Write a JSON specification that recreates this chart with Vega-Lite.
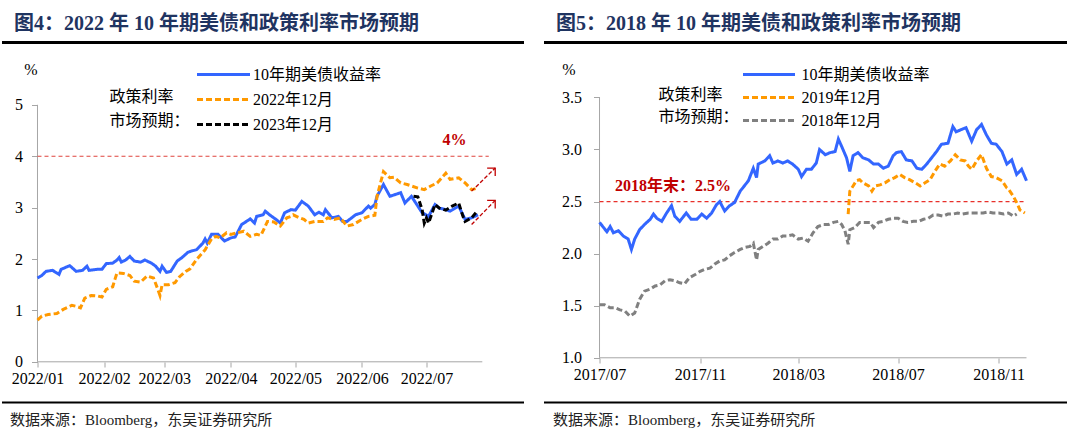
{
  "$schema": "https://vega.github.io/schema/vega-lite/v6.json",
  "background": "white",
  "padding": {"left": 1.5, "top": 13, "right": 5, "bottom": 5},
  "spacing": 20,
  "config": {
    "view": {"stroke": null},
    "font": "Liberation Serif",
    "axis": {"grid": false, "labelFont": "Liberation Serif", "labelFontSize": 16, "labelColor": "#000", "tickColor": "#a6a6a6", "domainColor": "#a6a6a6", "titleColor": "#000"}
  },
  "resolve": {"scale": {"x": "independent", "y": "independent", "color": "independent", "strokeDash": "independent"}},
  "datasets": {
    "us22": [
      {"d":"2022-01-01","s":"10年期美债收益率","v":1.63},{"d":"2022-01-03","s":"10年期美债收益率","v":1.68},{"d":"2022-01-05","s":"10年期美债收益率","v":1.76},{"d":"2022-01-08","s":"10年期美债收益率","v":1.78},{"d":"2022-01-11","s":"10年期美债收益率","v":1.70},{"d":"2022-01-12","s":"10年期美债收益率","v":1.80},{"d":"2022-01-16","s":"10年期美债收益率","v":1.87},{"d":"2022-01-19","s":"10年期美债收益率","v":1.76},{"d":"2022-01-22","s":"10年期美债收益率","v":1.78},{"d":"2022-01-24","s":"10年期美债收益率","v":1.86},{"d":"2022-01-25","s":"10年期美债收益率","v":1.78},{"d":"2022-01-29","s":"10年期美债收益率","v":1.80},{"d":"2022-01-31","s":"10年期美债收益率","v":1.80},{"d":"2022-02-02","s":"10年期美债收益率","v":1.91},{"d":"2022-02-05","s":"10年期美债收益率","v":1.92},{"d":"2022-02-07","s":"10年期美债收益率","v":1.98},{"d":"2022-02-08","s":"10年期美债收益率","v":2.03},{"d":"2022-02-09","s":"10年期美债收益率","v":1.94},{"d":"2022-02-11","s":"10年期美债收益率","v":1.98},{"d":"2022-02-13","s":"10年期美债收益率","v":2.05},{"d":"2022-02-15","s":"10年期美债收益率","v":1.96},{"d":"2022-02-18","s":"10年期美债收益率","v":1.94},{"d":"2022-02-20","s":"10年期美债收益率","v":1.98},{"d":"2022-02-23","s":"10年期美债收益率","v":1.92},{"d":"2022-02-25","s":"10年期美债收益率","v":1.86},{"d":"2022-02-27","s":"10年期美债收益率","v":1.76},{"d":"2022-02-28","s":"10年期美债收益率","v":1.86},{"d":"2022-03-02","s":"10年期美债收益率","v":1.74},{"d":"2022-03-04","s":"10年期美债收益率","v":1.76},{"d":"2022-03-07","s":"10年期美债收益率","v":1.96},{"d":"2022-03-09","s":"10年期美债收益率","v":2.02},{"d":"2022-03-12","s":"10年期美债收益率","v":2.13},{"d":"2022-03-14","s":"10年期美债收益率","v":2.16},{"d":"2022-03-16","s":"10年期美债收益率","v":2.18},{"d":"2022-03-19","s":"10年期美债收益率","v":2.31},{"d":"2022-03-20","s":"10年期美债收益率","v":2.39},{"d":"2022-03-21","s":"10年期美债收益率","v":2.31},{"d":"2022-03-23","s":"10年期美债收益率","v":2.48},{"d":"2022-03-26","s":"10年期美债收益率","v":2.48},{"d":"2022-03-29","s":"10年期美债收益率","v":2.35},{"d":"2022-04-01","s":"10年期美债收益率","v":2.41},{"d":"2022-04-03","s":"10年期美债收益率","v":2.43},{"d":"2022-04-06","s":"10年期美债收益率","v":2.67},{"d":"2022-04-10","s":"10年期美债收益率","v":2.78},{"d":"2022-04-12","s":"10年期美债收益率","v":2.70},{"d":"2022-04-13","s":"10年期美债收益率","v":2.83},{"d":"2022-04-16","s":"10年期美债收益率","v":2.86},{"d":"2022-04-17","s":"10年期美债收益率","v":2.93},{"d":"2022-04-19","s":"10年期美债收益率","v":2.86},{"d":"2022-04-22","s":"10年期美债收益率","v":2.77},{"d":"2022-04-24","s":"10年期美债收益率","v":2.70},{"d":"2022-04-26","s":"10年期美债收益率","v":2.90},{"d":"2022-04-29","s":"10年期美债收益率","v":2.96},{"d":"2022-05-01","s":"10年期美债收益率","v":2.95},{"d":"2022-05-04","s":"10年期美债收益率","v":3.12},{"d":"2022-05-07","s":"10年期美债收益率","v":3.03},{"d":"2022-05-10","s":"10年期美债收益率","v":2.86},{"d":"2022-05-12","s":"10年期美债收益率","v":2.91},{"d":"2022-05-14","s":"10年期美债收益率","v":2.86},{"d":"2022-05-15","s":"10年期美债收益率","v":2.96},{"d":"2022-05-18","s":"10年期美债收益率","v":2.80},{"d":"2022-05-20","s":"10年期美债收益率","v":2.82},{"d":"2022-05-21","s":"10年期美债收益率","v":2.83},{"d":"2022-05-23","s":"10年期美债收益率","v":2.73},{"d":"2022-05-25","s":"10年期美债收益率","v":2.73},{"d":"2022-05-29","s":"10年期美债收益率","v":2.86},{"d":"2022-06-01","s":"10年期美债收益率","v":2.90},{"d":"2022-06-04","s":"10年期美债收益率","v":3.03},{"d":"2022-06-05","s":"10年期美债收益率","v":2.99},{"d":"2022-06-07","s":"10年期美债收益率","v":3.06},{"d":"2022-06-08","s":"10年期美债收益率","v":3.22},{"d":"2022-06-11","s":"10年期美债收益率","v":3.45},{"d":"2022-06-14","s":"10年期美债收益率","v":3.22},{"d":"2022-06-19","s":"10年期美债收益率","v":3.29},{"d":"2022-06-21","s":"10年期美债收益率","v":3.09},{"d":"2022-06-24","s":"10年期美债收益率","v":3.22},{"d":"2022-06-29","s":"10年期美债收益率","v":2.90},{"d":"2022-07-02","s":"10年期美债收益率","v":2.83},{"d":"2022-07-05","s":"10年期美债收益率","v":3.06},{"d":"2022-07-07","s":"10年期美债收益率","v":2.99},{"d":"2022-07-10","s":"10年期美债收益率","v":2.96},{"d":"2022-07-12","s":"10年期美债收益率","v":2.93},{"d":"2022-07-16","s":"10年期美债收益率","v":3.03},{"d":"2022-07-19","s":"10年期美债收益率","v":2.77},{"d":"2022-07-22","s":"10年期美债收益率","v":2.80},{"d":"2022-07-25","s":"10年期美债收益率","v":2.86},
      {"d":"2022-01-01","s":"2022年12月","v":0.81},{"d":"2022-01-03","s":"2022年12月","v":0.89},{"d":"2022-01-06","s":"2022年12月","v":0.92},{"d":"2022-01-10","s":"2022年12月","v":0.94},{"d":"2022-01-13","s":"2022年12月","v":1.02},{"d":"2022-01-17","s":"2022年12月","v":1.10},{"d":"2022-01-19","s":"2022年12月","v":1.08},{"d":"2022-01-21","s":"2022年12月","v":1.05},{"d":"2022-01-23","s":"2022年12月","v":1.24},{"d":"2022-01-26","s":"2022年12月","v":1.29},{"d":"2022-01-29","s":"2022年12月","v":1.28},{"d":"2022-01-31","s":"2022年12月","v":1.26},{"d":"2022-02-02","s":"2022年12月","v":1.41},{"d":"2022-02-05","s":"2022年12月","v":1.46},{"d":"2022-02-06","s":"2022年12月","v":1.60},{"d":"2022-02-07","s":"2022年12月","v":1.73},{"d":"2022-02-10","s":"2022年12月","v":1.72},{"d":"2022-02-13","s":"2022年12月","v":1.68},{"d":"2022-02-15","s":"2022年12月","v":1.57},{"d":"2022-02-18","s":"2022年12月","v":1.55},{"d":"2022-02-21","s":"2022年12月","v":1.67},{"d":"2022-02-24","s":"2022年12月","v":1.63},{"d":"2022-02-26","s":"2022年12月","v":1.41},{"d":"2022-02-27","s":"2022年12月","v":1.29},{"d":"2022-02-28","s":"2022年12月","v":1.50},{"d":"2022-03-03","s":"2022年12月","v":1.50},{"d":"2022-03-06","s":"2022年12月","v":1.54},{"d":"2022-03-08","s":"2022年12月","v":1.65},{"d":"2022-03-11","s":"2022年12月","v":1.76},{"d":"2022-03-13","s":"2022年12月","v":1.81},{"d":"2022-03-16","s":"2022年12月","v":1.99},{"d":"2022-03-20","s":"2022年12月","v":2.18},{"d":"2022-03-23","s":"2022年12月","v":2.39},{"d":"2022-03-25","s":"2022年12月","v":2.44},{"d":"2022-03-27","s":"2022年12月","v":2.41},{"d":"2022-03-30","s":"2022年12月","v":2.51},{"d":"2022-04-01","s":"2022年12月","v":2.48},{"d":"2022-04-04","s":"2022年12月","v":2.51},{"d":"2022-04-07","s":"2022年12月","v":2.54},{"d":"2022-04-10","s":"2022年12月","v":2.44},{"d":"2022-04-13","s":"2022年12月","v":2.48},{"d":"2022-04-15","s":"2022年12月","v":2.46},{"d":"2022-04-18","s":"2022年12月","v":2.73},{"d":"2022-04-21","s":"2022年12月","v":2.72},{"d":"2022-04-24","s":"2022年12月","v":2.64},{"d":"2022-04-27","s":"2022年12月","v":2.80},{"d":"2022-04-29","s":"2022年12月","v":2.83},{"d":"2022-04-30","s":"2022年12月","v":2.86},{"d":"2022-05-03","s":"2022年12月","v":2.80},{"d":"2022-05-05","s":"2022年12月","v":2.77},{"d":"2022-05-07","s":"2022年12月","v":2.70},{"d":"2022-05-10","s":"2022年12月","v":2.73},{"d":"2022-05-14","s":"2022年12月","v":2.73},{"d":"2022-05-16","s":"2022年12月","v":2.80},{"d":"2022-05-19","s":"2022年12月","v":2.77},{"d":"2022-05-22","s":"2022年12月","v":2.80},{"d":"2022-05-25","s":"2022年12月","v":2.64},{"d":"2022-05-28","s":"2022年12月","v":2.67},{"d":"2022-06-01","s":"2022年12月","v":2.77},{"d":"2022-06-04","s":"2022年12月","v":2.83},{"d":"2022-06-07","s":"2022年12月","v":2.85},{"d":"2022-06-08","s":"2022年12月","v":3.22},{"d":"2022-06-09","s":"2022年12月","v":3.38},{"d":"2022-06-11","s":"2022年12月","v":3.70},{"d":"2022-06-14","s":"2022年12月","v":3.58},{"d":"2022-06-16","s":"2022年12月","v":3.59},{"d":"2022-06-19","s":"2022年12月","v":3.48},{"d":"2022-06-22","s":"2022年12月","v":3.45},{"d":"2022-06-27","s":"2022年12月","v":3.38},{"d":"2022-06-30","s":"2022年12月","v":3.35},{"d":"2022-07-03","s":"2022年12月","v":3.42},{"d":"2022-07-06","s":"2022年12月","v":3.48},{"d":"2022-07-10","s":"2022年12月","v":3.67},{"d":"2022-07-12","s":"2022年12月","v":3.55},{"d":"2022-07-16","s":"2022年12月","v":3.58},{"d":"2022-07-19","s":"2022年12月","v":3.48},{"d":"2022-07-22","s":"2022年12月","v":3.35},{"d":"2022-07-25","s":"2022年12月","v":3.38},
      {"d":"2022-06-25","s":"2023年12月","v":3.22},{"d":"2022-06-27","s":"2023年12月","v":3.21},{"d":"2022-06-29","s":"2023年12月","v":2.96},{"d":"2022-06-30","s":"2023年12月","v":2.70},{"d":"2022-07-01","s":"2023年12月","v":2.80},{"d":"2022-07-02","s":"2023年12月","v":2.70},{"d":"2022-07-05","s":"2023年12月","v":3.06},{"d":"2022-07-07","s":"2023年12月","v":2.99},{"d":"2022-07-10","s":"2023年12月","v":2.95},{"d":"2022-07-13","s":"2023年12月","v":3.03},{"d":"2022-07-16","s":"2023年12月","v":3.09},{"d":"2022-07-18","s":"2023年12月","v":2.83},{"d":"2022-07-19","s":"2023年12月","v":2.73},{"d":"2022-07-22","s":"2023年12月","v":2.80},{"d":"2022-07-24","s":"2023年12月","v":2.90},{"d":"2022-07-25","s":"2023年12月","v":2.86}
    ],
    "arrows": [
      {"a":"上","d":"2022-07-22","v":3.32,"head":0},{"a":"上","d":"2022-08-02","v":3.77,"head":1},
      {"a":"下","d":"2022-07-22","v":2.67,"head":0},{"a":"下","d":"2022-08-02","v":3.14,"head":1}
    ],
    "us18": [
      {"d":"2017-07-01","s":"10年期美债收益率","v":2.30},{"d":"2017-07-05","s":"10年期美债收益率","v":2.26},{"d":"2017-07-10","s":"10年期美债收益率","v":2.21},{"d":"2017-07-14","s":"10年期美债收益率","v":2.26},{"d":"2017-07-18","s":"10年期美债收益率","v":2.20},{"d":"2017-07-24","s":"10年期美债收益率","v":2.22},{"d":"2017-07-30","s":"10年期美债收益率","v":2.17},{"d":"2017-08-05","s":"10年期美债收益率","v":2.14},{"d":"2017-08-09","s":"10年期美债收益率","v":2.04},{"d":"2017-08-13","s":"10年期美债收益率","v":2.14},{"d":"2017-08-19","s":"10年期美债收益率","v":2.23},{"d":"2017-08-25","s":"10年期美债收益率","v":2.28},{"d":"2017-09-01","s":"10年期美债收益率","v":2.33},{"d":"2017-09-05","s":"10年期美债收益率","v":2.38},{"d":"2017-09-09","s":"10年期美债收益率","v":2.34},{"d":"2017-09-15","s":"10年期美债收益率","v":2.31},{"d":"2017-09-21","s":"10年期美债收益率","v":2.39},{"d":"2017-09-27","s":"10年期美债收益率","v":2.46},{"d":"2017-10-01","s":"10年期美债收益率","v":2.36},{"d":"2017-10-07","s":"10年期美债收益率","v":2.31},{"d":"2017-10-15","s":"10年期美债收益率","v":2.39},{"d":"2017-10-21","s":"10年期美债收益率","v":2.33},{"d":"2017-10-28","s":"10年期美债收益率","v":2.33},{"d":"2017-11-03","s":"10年期美债收益率","v":2.38},{"d":"2017-11-09","s":"10年期美债收益率","v":2.34},{"d":"2017-11-15","s":"10年期美债收益率","v":2.39},{"d":"2017-11-21","s":"10年期美债收益率","v":2.47},{"d":"2017-11-25","s":"10年期美债收益率","v":2.50},{"d":"2017-12-01","s":"10年期美债收益率","v":2.41},{"d":"2017-12-07","s":"10年期美债收益率","v":2.46},{"d":"2017-12-13","s":"10年期美债收益率","v":2.49},{"d":"2017-12-20","s":"10年期美债收益率","v":2.60},{"d":"2017-12-30","s":"10年期美债收益率","v":2.70},{"d":"2018-01-05","s":"10年期美债收益率","v":2.82},{"d":"2018-01-09","s":"10年期美债收益率","v":2.73},{"d":"2018-01-11","s":"10年期美债收益率","v":2.86},{"d":"2018-01-19","s":"10年期美债收益率","v":2.89},{"d":"2018-01-25","s":"10年期美债收益率","v":2.94},{"d":"2018-01-29","s":"10年期美债收益率","v":2.87},{"d":"2018-02-04","s":"10年期美债收益率","v":2.89},{"d":"2018-02-10","s":"10年期美债收益率","v":2.87},{"d":"2018-02-16","s":"10年期美债收益率","v":2.89},{"d":"2018-02-22","s":"10年期美债收益率","v":2.86},{"d":"2018-03-01","s":"10年期美债收益率","v":2.81},{"d":"2018-03-05","s":"10年期美债收益率","v":2.74},{"d":"2018-03-11","s":"10年期美债收益率","v":2.81},{"d":"2018-03-17","s":"10年期美债收益率","v":2.81},{"d":"2018-03-23","s":"10年期美债收益率","v":2.87},{"d":"2018-03-27","s":"10年期美债收益率","v":3.00},{"d":"2018-04-03","s":"10年期美债收益率","v":2.95},{"d":"2018-04-09","s":"10年期美债收益率","v":2.97},{"d":"2018-04-15","s":"10年期美债收益率","v":2.98},{"d":"2018-04-19","s":"10年期美债收益率","v":3.10},{"d":"2018-04-23","s":"10年期美债收益率","v":3.03},{"d":"2018-04-29","s":"10年期美债收益率","v":2.92},{"d":"2018-05-03","s":"10年期美债收益率","v":2.79},{"d":"2018-05-07","s":"10年期美债收益率","v":2.94},{"d":"2018-05-13","s":"10年期美债收益率","v":2.97},{"d":"2018-05-19","s":"10年期美债收益率","v":2.92},{"d":"2018-05-26","s":"10年期美债收益率","v":2.90},{"d":"2018-06-01","s":"10年期美债收益率","v":2.86},{"d":"2018-06-07","s":"10年期美债收益率","v":2.86},{"d":"2018-06-13","s":"10年期美债收益率","v":2.82},{"d":"2018-06-19","s":"10年期美债收益率","v":2.84},{"d":"2018-06-25","s":"10年期美债收益率","v":2.94},{"d":"2018-06-29","s":"10年期美债收益率","v":2.97},{"d":"2018-07-05","s":"10年期美债收益率","v":2.98},{"d":"2018-07-11","s":"10年期美债收益率","v":2.90},{"d":"2018-07-18","s":"10年期美债收益率","v":2.89},{"d":"2018-07-24","s":"10年期美债收益率","v":2.82},{"d":"2018-07-30","s":"10年期美债收益率","v":2.81},{"d":"2018-08-05","s":"10年期美债收益率","v":2.86},{"d":"2018-08-11","s":"10年期美债收益率","v":2.92},{"d":"2018-08-17","s":"10年期美债收益率","v":2.98},{"d":"2018-08-23","s":"10年期美债收益率","v":3.05},{"d":"2018-08-31","s":"10年期美债收益率","v":3.06},{"d":"2018-09-06","s":"10年期美债收益率","v":3.22},{"d":"2018-09-10","s":"10年期美债收益率","v":3.17},{"d":"2018-09-16","s":"10年期美债收益率","v":3.19},{"d":"2018-09-22","s":"10年期美债收益率","v":3.21},{"d":"2018-09-29","s":"10年期美债收益率","v":3.08},{"d":"2018-10-05","s":"10年期美债收益率","v":3.19},{"d":"2018-10-11","s":"10年期美债收益率","v":3.24},{"d":"2018-10-17","s":"10年期美债收益率","v":3.14},{"d":"2018-10-23","s":"10年期美债收益率","v":3.06},{"d":"2018-10-29","s":"10年期美债收益率","v":3.05},{"d":"2018-11-05","s":"10年期美债收益率","v":2.98},{"d":"2018-11-11","s":"10年期美债收益率","v":2.86},{"d":"2018-11-17","s":"10年期美债收益率","v":2.90},{"d":"2018-11-23","s":"10年期美债收益率","v":2.76},{"d":"2018-11-29","s":"10年期美债收益率","v":2.81},{"d":"2018-12-05","s":"10年期美债收益率","v":2.70},
      {"d":"2018-05-01","s":"2019年12月","v":2.38},{"d":"2018-05-03","s":"2019年12月","v":2.60},{"d":"2018-05-07","s":"2019年12月","v":2.65},{"d":"2018-05-11","s":"2019年12月","v":2.70},{"d":"2018-05-15","s":"2019年12月","v":2.71},{"d":"2018-05-19","s":"2019年12月","v":2.68},{"d":"2018-05-26","s":"2019年12月","v":2.65},{"d":"2018-05-30","s":"2019年12月","v":2.60},{"d":"2018-06-03","s":"2019年12月","v":2.65},{"d":"2018-06-09","s":"2019年12月","v":2.66},{"d":"2018-06-15","s":"2019年12月","v":2.68},{"d":"2018-06-21","s":"2019年12月","v":2.71},{"d":"2018-06-27","s":"2019年12月","v":2.73},{"d":"2018-07-03","s":"2019年12月","v":2.76},{"d":"2018-07-09","s":"2019年12月","v":2.73},{"d":"2018-07-15","s":"2019年12月","v":2.71},{"d":"2018-07-22","s":"2019年12月","v":2.68},{"d":"2018-07-28","s":"2019年12月","v":2.65},{"d":"2018-08-03","s":"2019年12月","v":2.68},{"d":"2018-08-09","s":"2019年12月","v":2.71},{"d":"2018-08-15","s":"2019年12月","v":2.79},{"d":"2018-08-21","s":"2019年12月","v":2.86},{"d":"2018-08-27","s":"2019年12月","v":2.84},{"d":"2018-09-03","s":"2019年12月","v":2.89},{"d":"2018-09-09","s":"2019年12月","v":2.95},{"d":"2018-09-15","s":"2019年12月","v":2.90},{"d":"2018-09-21","s":"2019年12月","v":2.89},{"d":"2018-09-25","s":"2019年12月","v":2.84},{"d":"2018-09-29","s":"2019年12月","v":2.81},{"d":"2018-10-05","s":"2019年12月","v":2.89},{"d":"2018-10-11","s":"2019年12月","v":2.95},{"d":"2018-10-17","s":"2019年12月","v":2.82},{"d":"2018-10-23","s":"2019年12月","v":2.74},{"d":"2018-10-29","s":"2019年12月","v":2.73},{"d":"2018-11-05","s":"2019年12月","v":2.70},{"d":"2018-11-11","s":"2019年12月","v":2.63},{"d":"2018-11-13","s":"2019年12月","v":2.62},{"d":"2018-11-19","s":"2019年12月","v":2.55},{"d":"2018-11-23","s":"2019年12月","v":2.49},{"d":"2018-11-27","s":"2019年12月","v":2.42},{"d":"2018-12-03","s":"2019年12月","v":2.39},
      {"d":"2017-07-01","s":"2018年12月","v":1.51},{"d":"2017-07-07","s":"2018年12月","v":1.51},{"d":"2017-07-14","s":"2018年12月","v":1.48},{"d":"2017-07-20","s":"2018年12月","v":1.48},{"d":"2017-07-26","s":"2018年12月","v":1.46},{"d":"2017-08-01","s":"2018年12月","v":1.45},{"d":"2017-08-07","s":"2018年12月","v":1.40},{"d":"2017-08-13","s":"2018年12月","v":1.43},{"d":"2017-08-19","s":"2018年12月","v":1.56},{"d":"2017-08-25","s":"2018年12月","v":1.64},{"d":"2017-09-01","s":"2018年12月","v":1.66},{"d":"2017-09-07","s":"2018年12月","v":1.69},{"d":"2017-09-13","s":"2018年12月","v":1.70},{"d":"2017-09-19","s":"2018年12月","v":1.74},{"d":"2017-09-25","s":"2018年12月","v":1.75},{"d":"2017-10-01","s":"2018年12月","v":1.74},{"d":"2017-10-07","s":"2018年12月","v":1.72},{"d":"2017-10-13","s":"2018年12月","v":1.71},{"d":"2017-10-19","s":"2018年12月","v":1.77},{"d":"2017-10-26","s":"2018年12月","v":1.80},{"d":"2017-11-01","s":"2018年12月","v":1.83},{"d":"2017-11-07","s":"2018年12月","v":1.85},{"d":"2017-11-13","s":"2018年12月","v":1.86},{"d":"2017-11-19","s":"2018年12月","v":1.90},{"d":"2017-11-25","s":"2018年12月","v":1.93},{"d":"2017-12-01","s":"2018年12月","v":1.94},{"d":"2017-12-07","s":"2018年12月","v":1.98},{"d":"2017-12-13","s":"2018年12月","v":2.01},{"d":"2017-12-20","s":"2018年12月","v":2.04},{"d":"2017-12-26","s":"2018年12月","v":2.06},{"d":"2018-01-01","s":"2018年12月","v":2.07},{"d":"2018-01-05","s":"2018年12月","v":2.10},{"d":"2018-01-09","s":"2018年12月","v":1.94},{"d":"2018-01-11","s":"2018年12月","v":2.04},{"d":"2018-01-17","s":"2018年12月","v":2.07},{"d":"2018-01-23","s":"2018年12月","v":2.10},{"d":"2018-01-29","s":"2018年12月","v":2.14},{"d":"2018-02-04","s":"2018年12月","v":2.14},{"d":"2018-02-10","s":"2018年12月","v":2.17},{"d":"2018-02-16","s":"2018年12月","v":2.17},{"d":"2018-02-22","s":"2018年12月","v":2.18},{"d":"2018-03-01","s":"2018年12月","v":2.14},{"d":"2018-03-07","s":"2018年12月","v":2.15},{"d":"2018-03-13","s":"2018年12月","v":2.12},{"d":"2018-03-19","s":"2018年12月","v":2.20},{"d":"2018-03-25","s":"2018年12月","v":2.26},{"d":"2018-04-01","s":"2018年12月","v":2.28},{"d":"2018-04-07","s":"2018年12月","v":2.28},{"d":"2018-04-13","s":"2018年12月","v":2.30},{"d":"2018-04-19","s":"2018年12月","v":2.31},{"d":"2018-04-23","s":"2018年12月","v":2.28},{"d":"2018-04-27","s":"2018年12月","v":2.22},{"d":"2018-05-01","s":"2018年12月","v":2.09},{"d":"2018-05-03","s":"2018年12月","v":2.23},{"d":"2018-05-09","s":"2018年12月","v":2.25},{"d":"2018-05-15","s":"2018年12月","v":2.30},{"d":"2018-05-21","s":"2018年12月","v":2.30},{"d":"2018-05-28","s":"2018年12月","v":2.30},{"d":"2018-06-01","s":"2018年12月","v":2.25},{"d":"2018-06-07","s":"2018年12月","v":2.30},{"d":"2018-06-13","s":"2018年12月","v":2.31},{"d":"2018-06-19","s":"2018年12月","v":2.33},{"d":"2018-06-25","s":"2018年12月","v":2.34},{"d":"2018-07-01","s":"2018年12月","v":2.34},{"d":"2018-07-07","s":"2018年12月","v":2.31},{"d":"2018-07-13","s":"2018年12月","v":2.30},{"d":"2018-07-20","s":"2018年12月","v":2.31},{"d":"2018-07-26","s":"2018年12月","v":2.31},{"d":"2018-08-01","s":"2018年12月","v":2.33},{"d":"2018-08-07","s":"2018年12月","v":2.34},{"d":"2018-08-13","s":"2018年12月","v":2.37},{"d":"2018-08-19","s":"2018年12月","v":2.37},{"d":"2018-08-25","s":"2018年12月","v":2.36},{"d":"2018-08-31","s":"2018年12月","v":2.38},{"d":"2018-09-06","s":"2018年12月","v":2.38},{"d":"2018-09-12","s":"2018年12月","v":2.39},{"d":"2018-09-18","s":"2018年12月","v":2.38},{"d":"2018-09-25","s":"2018年12月","v":2.39},{"d":"2018-10-01","s":"2018年12月","v":2.39},{"d":"2018-10-07","s":"2018年12月","v":2.39},{"d":"2018-10-13","s":"2018年12月","v":2.39},{"d":"2018-10-19","s":"2018年12月","v":2.40},{"d":"2018-10-25","s":"2018年12月","v":2.39},{"d":"2018-11-01","s":"2018年12月","v":2.39},{"d":"2018-11-07","s":"2018年12月","v":2.38},{"d":"2018-11-13","s":"2018年12月","v":2.39},{"d":"2018-11-19","s":"2018年12月","v":2.36},{"d":"2018-11-23","s":"2018年12月","v":2.38}
    ]
  },
  "hconcat": [
    {
      "width": 522,
      "height": 360,
      "resolve": {"axis": {"x": "independent", "y": "independent"}},
      "layer": [
        {
          "data": {"values": [{}]},
          "mark": {"type": "rule", "color": "#a6a6a6", "strokeWidth": 1},
          "encoding": {
            "x": {"datum": {"year": 2022, "month": 1, "date": 1, "utc": true}, "type": "temporal",
              "scale": {"type": "utc", "nice": false, "domain": [{"year": 2021, "month": 12, "date": 15, "hours": 6, "utc": true}, {"year": 2022, "month": 8, "date": 15, "hours": 4, "utc": true}]},
              "axis": {"orient": "bottom", "offset": -40, "domain": false, "title": null, "tickSize": 5, "labelPadding": 3, "labelExpr": "utcFormat(datum.value, '%Y/%m')", "labelFlush": false, "labelOverlap": false,
                "values": [{"year": 2022, "month": 1, "date": 1, "utc": true}, {"year": 2022, "month": 2, "date": 1, "utc": true}, {"year": 2022, "month": 3, "date": 1, "utc": true}, {"year": 2022, "month": 4, "date": 1, "utc": true}, {"year": 2022, "month": 5, "date": 1, "utc": true}, {"year": 2022, "month": 6, "date": 1, "utc": true}, {"year": 2022, "month": 7, "date": 1, "utc": true}]}},
            "y": {"datum": 0, "type": "quantitative",
              "scale": {"domain": [-0.782, 6.222], "nice": false, "zero": false},
              "axis": {"orient": "left", "offset": -36, "domain": false, "values": [0, 1, 2, 3, 4, 5], "format": "d", "tickSize": 6, "labelPadding": 9,
                "title": "%", "titleAngle": 0, "titleX": -7, "titleY": 27.5, "titleAlign": "center", "titleBaseline": "middle", "titleFont": "Liberation Serif", "titleFontSize": 16, "titleFontWeight": "normal"}},
            "y2": {"datum": 5}
          }
        },
        {
          "data": {"values": [{}]},
          "mark": {"type": "rule", "color": "#a6a6a6", "strokeWidth": 1},
          "encoding": {
            "x": {"datum": {"year": 2022, "month": 1, "date": 1, "utc": true}, "type": "temporal",
              "axis": {"orient": "top", "domain": true, "domainColor": "#000", "domainWidth": 3, "ticks": false, "labels": false,
                "title": "图4：2022 年 10 年期美债和政策利率市场预期", "titleX": 12, "titleY": -12.5, "titleAlign": "left", "titleBaseline": "alphabetic", "titleAngle": 0,
                "titleFont": "Liberation Serif, Noto Sans CJK SC", "titleFontSize": 20, "titleFontWeight": "bold", "titleColor": "#1f3461"}},
            "x2": {"datum": {"year": 2022, "month": 7, "date": 27, "utc": true}},
            "y": {"datum": 0, "type": "quantitative", "axis": null}
          }
        },
        {
          "data": {"values": [{}]},
          "mark": {"type": "rule", "color": "#e0443e", "strokeWidth": 1.1, "strokeDash": [4, 3]},
          "encoding": {
            "x": {"datum": {"year": 2022, "month": 1, "date": 1, "utc": true}, "type": "temporal",
              "axis": {"orient": "bottom", "domain": true, "domainColor": "#000", "domainWidth": 2, "ticks": false, "labels": false,
                "title": "数据来源：Bloomberg，东吴证券研究所", "titleX": 8, "titleY": 22.5, "titleAlign": "left", "titleBaseline": "alphabetic",
                "titleFont": "Liberation Serif, Noto Sans CJK SC", "titleFontSize": 15, "titleFontWeight": "normal", "titleColor": "#222"}},
            "x2": {"datum": {"year": 2022, "month": 7, "date": 30, "utc": true}},
            "y": {"datum": 4, "type": "quantitative", "axis": null}
          }
        },
        {
          "data": {"values": [{}]},
          "mark": {"type": "text", "text": "4%", "color": "#c00000", "fontWeight": "bold", "fontSize": 16, "font": "Liberation Serif", "align": "center", "baseline": "middle"},
          "encoding": {
            "x": {"datum": {"year": 2022, "month": 7, "date": 14, "utc": true}, "type": "temporal", "axis": null},
            "y": {"datum": 4.32, "type": "quantitative", "axis": null}
          }
        },
        {
          "data": {"name": "us22"},
          "mark": {"type": "line", "strokeWidth": 3},
          "encoding": {
            "x": {"field": "d", "type": "temporal", "axis": null},
            "y": {"field": "v", "type": "quantitative", "axis": null},
            "color": {"field": "s", "type": "nominal",
              "scale": {"domain": ["10年期美债收益率", "2022年12月", "2023年12月"], "range": ["#3366ff", "#ff9900", "#000000"]},
              "legend": {"orient": "none", "legendX": 108, "legendY": 23, "title": [" ", "政策利率", "市场预期："], "titleOrient": "left", "titleAnchor": "start", "titleBaseline": "top", "titleLineHeight": 24,
                "titleFont": "Liberation Serif, Noto Sans CJK SC", "titleFontSize": 16, "titleFontWeight": "normal", "titleColor": "#000", "titlePadding": 5,
                "symbolType": "M-3.3125,0L3.3125,0", "symbolSize": 256, "symbolOffset": 18.5, "symbolStrokeWidth": 3, "labelFont": "Liberation Serif, Noto Sans CJK SC", "labelFontSize": 16, "labelColor": "#000", "labelOffset": 20, "rowPadding": 7, "padding": 0, "labelLimit": 300}},
            "strokeDash": {"field": "s", "type": "nominal",
              "scale": {"domain": ["10年期美债收益率", "2022年12月", "2023年12月"], "range": [[1, 0], [6, 3], [6, 3]]},
              "legend": {"orient": "none", "legendX": 108, "legendY": 23, "title": [" ", "政策利率", "市场预期："], "titleOrient": "left", "titleAnchor": "start", "titleBaseline": "top", "titleLineHeight": 24,
                "titleFont": "Liberation Serif, Noto Sans CJK SC", "titleFontSize": 16, "titleFontWeight": "normal", "titleColor": "#000", "titlePadding": 5,
                "symbolType": "M-3.3125,0L3.3125,0", "symbolSize": 256, "symbolOffset": 18.5, "symbolStrokeWidth": 3, "labelFont": "Liberation Serif, Noto Sans CJK SC", "labelFontSize": 16, "labelColor": "#000", "labelOffset": 20, "rowPadding": 7, "padding": 0, "labelLimit": 300}}
          }
        },
        {
          "data": {"name": "arrows"},
          "mark": {"type": "line", "color": "#c00000", "strokeWidth": 1.3, "strokeDash": [4, 2]},
          "encoding": {
            "x": {"field": "d", "type": "temporal", "axis": null},
            "y": {"field": "v", "type": "quantitative", "axis": null},
            "detail": {"field": "a"}
          }
        },
        {
          "data": {"name": "arrows"},
          "transform": [{"filter": "datum.head == 1"}],
          "mark": {"type": "point", "shape": "M-1,1L0,0L1,1", "angle": 45, "size": 130, "filled": false, "color": "#c00000", "strokeWidth": 1.3, "opacity": 1},
          "encoding": {
            "x": {"field": "d", "type": "temporal", "axis": null},
            "y": {"field": "v", "type": "quantitative", "axis": null}
          }
        }
      ]
    },
    {
      "width": 523,
      "height": 360,
      "resolve": {"axis": {"x": "independent", "y": "independent"}},
      "layer": [
        {
          "data": {"values": [{}]},
          "mark": {"type": "rule", "color": "#a6a6a6", "strokeWidth": 1},
          "encoding": {
            "x": {"datum": {"year": 2017, "month": 7, "date": 1, "utc": true}, "type": "temporal",
              "scale": {"type": "utc", "nice": false, "domain": [{"year": 2017, "month": 4, "date": 23, "hours": 12, "utc": true}, {"year": 2019, "month": 1, "date": 22, "hours": 22, "utc": true}]},
              "axis": {"orient": "bottom", "offset": -44, "domain": false, "title": null, "tickSize": 5, "labelPadding": 3, "labelExpr": "utcFormat(datum.value, '%Y/%m')", "labelFlush": false, "labelOverlap": false,
                "values": [{"year": 2017, "month": 7, "date": 1, "utc": true}, {"year": 2017, "month": 11, "date": 1, "utc": true}, {"year": 2018, "month": 3, "date": 1, "utc": true}, {"year": 2018, "month": 7, "date": 1, "utc": true}, {"year": 2018, "month": 11, "date": 1, "utc": true}]}},
            "y": {"datum": 1, "type": "quantitative",
              "scale": {"domain": [0.5756, 4.032], "nice": false, "zero": false},
              "axis": {"orient": "left", "offset": -56, "domain": false, "values": [1, 1.5, 2, 2.5, 3, 3.5], "format": ".1f", "tickSize": 6, "labelPadding": 12,
                "title": "%", "titleAngle": 0, "titleX": -31, "titleY": 27.5, "titleAlign": "center", "titleBaseline": "middle", "titleFont": "Liberation Serif", "titleFontSize": 16, "titleFontWeight": "normal"}},
            "y2": {"datum": 3.5}
          }
        },
        {
          "data": {"values": [{}]},
          "mark": {"type": "rule", "color": "#a6a6a6", "strokeWidth": 1},
          "encoding": {
            "x": {"datum": {"year": 2017, "month": 7, "date": 1, "utc": true}, "type": "temporal",
              "axis": {"orient": "top", "domain": true, "domainColor": "#000", "domainWidth": 3, "ticks": false, "labels": false,
                "title": "图5：2018 年 10 年期美债和政策利率市场预期", "titleX": 12, "titleY": -12.5, "titleAlign": "left", "titleBaseline": "alphabetic", "titleAngle": 0,
                "titleFont": "Liberation Serif, Noto Sans CJK SC", "titleFontSize": 20, "titleFontWeight": "bold", "titleColor": "#1f3461"}},
            "x2": {"datum": {"year": 2018, "month": 12, "date": 5, "utc": true}},
            "y": {"datum": 1, "type": "quantitative", "axis": null}
          }
        },
        {
          "data": {"values": [{}]},
          "mark": {"type": "rule", "color": "#e8302a", "strokeWidth": 1.2, "strokeDash": [4, 3]},
          "encoding": {
            "x": {"datum": {"year": 2017, "month": 7, "date": 1, "utc": true}, "type": "temporal",
              "axis": {"orient": "bottom", "domain": true, "domainColor": "#000", "domainWidth": 2, "ticks": false, "labels": false,
                "title": "数据来源：Bloomberg，东吴证券研究所", "titleX": 9, "titleY": 22.5, "titleAlign": "left", "titleBaseline": "alphabetic",
                "titleFont": "Liberation Serif, Noto Sans CJK SC", "titleFontSize": 15, "titleFontWeight": "normal", "titleColor": "#222"}},
            "x2": {"datum": {"year": 2018, "month": 12, "date": 5, "utc": true}},
            "y": {"datum": 2.5, "type": "quantitative", "axis": null}
          }
        },
        {
          "data": {"values": [{}]},
          "mark": {"type": "text", "text": "2018年末：2.5%", "color": "#c00000", "fontWeight": "bold", "fontSize": 16, "font": "Liberation Serif, Noto Sans CJK SC", "align": "left", "baseline": "middle"},
          "encoding": {
            "x": {"datum": {"year": 2017, "month": 7, "date": 20, "utc": true}, "type": "temporal", "axis": null},
            "y": {"datum": 2.648, "type": "quantitative", "axis": null}
          }
        },
        {
          "data": {"name": "us18"},
          "mark": {"type": "line", "strokeWidth": 3},
          "encoding": {
            "x": {"field": "d", "type": "temporal", "axis": null},
            "y": {"field": "v", "type": "quantitative", "axis": null},
            "color": {"field": "s", "type": "nominal",
              "scale": {"domain": ["10年期美债收益率", "2019年12月", "2018年12月"], "range": ["#3366ff", "#ff9900", "#808080"]},
              "legend": {"orient": "none", "legendX": 115, "legendY": 23, "title": [" ", "政策利率", "市场预期："], "titleOrient": "left", "titleAnchor": "start", "titleBaseline": "top", "titleLineHeight": 22,
                "titleFont": "Liberation Serif, Noto Sans CJK SC", "titleFontSize": 16, "titleFontWeight": "normal", "titleColor": "#000", "titlePadding": 2,
                "symbolType": "M-3.25,0L3.25,0", "symbolSize": 256, "symbolOffset": 18, "symbolStrokeWidth": 3, "labelFont": "Liberation Serif, Noto Sans CJK SC", "labelFontSize": 16, "labelColor": "#000", "labelOffset": 23, "rowPadding": 5, "padding": 0, "labelLimit": 300}},
            "strokeDash": {"field": "s", "type": "nominal",
              "scale": {"domain": ["10年期美债收益率", "2019年12月", "2018年12月"], "range": [[1, 0], [6, 3], [6, 3]]},
              "legend": {"orient": "none", "legendX": 115, "legendY": 23, "title": [" ", "政策利率", "市场预期："], "titleOrient": "left", "titleAnchor": "start", "titleBaseline": "top", "titleLineHeight": 22,
                "titleFont": "Liberation Serif, Noto Sans CJK SC", "titleFontSize": 16, "titleFontWeight": "normal", "titleColor": "#000", "titlePadding": 2,
                "symbolType": "M-3.25,0L3.25,0", "symbolSize": 256, "symbolOffset": 18, "symbolStrokeWidth": 3, "labelFont": "Liberation Serif, Noto Sans CJK SC", "labelFontSize": 16, "labelColor": "#000", "labelOffset": 23, "rowPadding": 5, "padding": 0, "labelLimit": 300}}
          }
        }
      ]
    }
  ]
}
